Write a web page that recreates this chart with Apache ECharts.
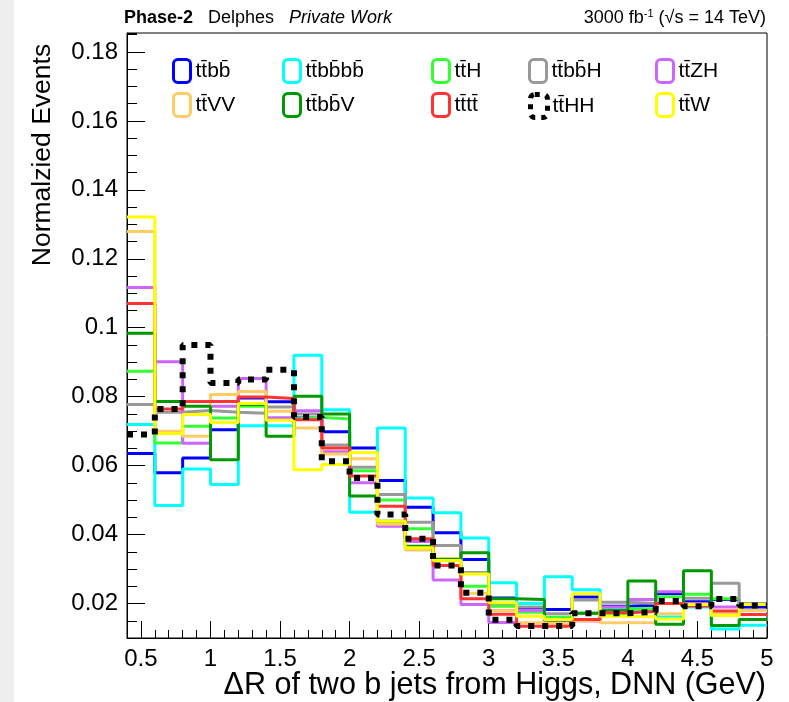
<!DOCTYPE html>
<html><head><meta charset="utf-8">
<script src="https://cdn.jsdelivr.net/npm/echarts@6/dist/echarts.min.js"></script>
<style>html,body{margin:0;padding:0;background:#fff}#c{width:789px;height:702px}</style>
</head><body><div id="c"></div>
<script>
const binEdges = [0.4,0.6,0.8,1.0,1.2,1.4,1.6,1.8,2.0,2.2,2.4,2.6,2.8,3.0,3.2,3.4,3.6,3.8,4.0,4.2,4.4,4.6,4.8,5.0];
const xTickLabels = [0.5,1,1.5,2,2.5,3,3.5,4,4.5,5];
const yTickLabels = [0.02,0.04,0.06,0.08,0.1,0.12,0.14,0.16,0.18];

const ttbb   = [.0635,.0579,.0622,.0704,.0796,.0785,.0738,.0698,.0651,.0557,.0479,.0405,.0328,.0216,.0183,.0183,.0219,.0192,.0195,.0229,.0205,.0212,.0190];
const ttbbbb = [.0719,.0484,.0590,.0545,.0716,.0716,.0920,.0762,.0465,.0709,.0506,.0463,.0390,.0260,.0200,.0278,.0240,.0185,.0178,.0161,.0190,.0126,.0137];
const ttH    = [.0874,.0666,.0714,.0738,.0772,.0735,.0740,.0735,.0585,.0500,.0417,.0330,.0250,.0192,.0175,.0160,.0172,.0170,.0185,.0220,.0227,.0214,.0180];
const ttbbH  = [.0777,.0755,.0760,.0755,.0752,.0770,.0750,.0660,.0595,.0516,.0436,.0368,.0290,.0200,.0190,.0170,.0210,.0204,.0200,.0200,.0215,.0259,.0200];
const ttZH   = [.1117,.0901,.0665,.0772,.0853,.0739,.0759,.0640,.0550,.0424,.0380,.0268,.0197,.0145,.0180,.0150,.0149,.0190,.0212,.0234,.0200,.0190,.0180];
const ttVV   = [.1279,.0700,.0685,.0806,.0815,.0758,.0709,.0634,.0620,.0430,.0355,.0330,.0230,.0180,.0144,.0140,.0150,.0144,.0145,.0170,.0195,.0170,.0180];
const ttbbV  = [.0984,.0786,.0772,.0617,.0777,.0685,.0801,.0750,.0512,.0439,.0366,.0328,.0347,.0214,.0212,.0152,.0172,.0180,.0265,.0140,.0295,.0136,.0154];
const tttt   = [.1070,.0764,.0786,.0786,.0799,.0795,.0733,.0651,.0570,.0482,.0388,.0310,.0214,.0169,.0134,.0134,.0154,.0173,.0177,.0200,.0193,.0178,.0168];
const ttHH   = [.0690,.0764,.0950,.0840,.0850,.0878,.0741,.0613,.0564,.0458,.0388,.0310,.0231,.0153,.0135,.0135,.0172,.0172,.0176,.0207,.0192,.0213,.0194];
const ttW    = [.1321,.0693,.0748,.0725,.0780,.0732,.0588,.0603,.0638,.0439,.0362,.0325,.0286,.0202,.0163,.0154,.0228,.0163,.0162,.0155,.0197,.0165,.0197];

const names = ['tt\u0304bb\u0304','tt\u0304bb\u0304bb\u0304','tt\u0304H','tt\u0304bb\u0304H','tt\u0304ZH',
               'tt\u0304VV','tt\u0304bb\u0304V','tt\u0304tt\u0304','tt\u0304HH','tt\u0304W'];
const values = [ttbb, ttbbbb, ttH, ttbbH, ttZH, ttVV, ttbbV, tttt, ttHH, ttW];
const colors = ['#0000ff','#00ffff','#33ff33','#999999','#cc66ff','#ffcc66','#009900','#ff3333','#000000','#ffff00'];
const drawOrder = [0,1,2,3,4,5,6,7,9,8];

const FONT = "'Liberation Sans', Arial, Helvetica, sans-serif";

function histData(vals){
  return binEdges.map((e,i)=>[e, vals[Math.min(i, vals.length-1)]]);
}

const series = drawOrder.map((k, j) => {
  const isDot = k === 8;
  return {
    name: names[k], type: 'line', step: 'end', symbol: 'none',
    xAxisIndex: 0, yAxisIndex: 0, z: 2 + j,
    data: histData(values[k]),
    lineStyle: isDot ? {color: '#000', width: 6, type: [6, 8]} : {color: colors[k], width: 3},
    itemStyle: {color: colors[k]},
    silent: true
  };
});

const colLeft = [172, 282, 431, 528, 655];
const rowTop = [58, 92];
const legends = names.map((n, k) => {
  const isDot = k === 8;
  return {
    left: colLeft[k % 5], top: rowTop[Math.floor(k / 5)],
    padding: 0, itemWidth: 17, itemHeight: 23, icon: 'roundRect', selectedMode: false,
    data: [{name: n, itemStyle: {color: 'transparent', borderColor: colors[k], borderWidth: isDot ? 5 : 3,
            borderType: isDot ? [5, 6] : 'solid'}}],
    textStyle: {fontFamily: FONT, fontSize: 21, color: '#000'}
  };
});

const chart = echarts.init(document.getElementById('c'), null, {renderer: 'canvas'});
chart.setOption({
  animation: false,
  backgroundColor: '#ffffff',
  grid: {left: 127, right: 22, top: 33, bottom: 64, show: true, borderColor: '#000', borderWidth: 1, backgroundColor: 'transparent'},
  legend: legends,
  xAxis: [
    {type: 'value', min: 0.4, max: 5, position: 'bottom',
     axisLine: {show: true, lineStyle: {color: '#000', width: 1}},
     axisTick: {show: true, inside: true, length: 17, lineStyle: {color: '#000'}, customValues: xTickLabels},
     axisLabel: {show: true, customValues: xTickLabels, margin: 9, fontSize: 24, fontFamily: FONT, color: '#000',
                 formatter: v => String(v)},
     splitLine: {show: false}},
    {type: 'value', min: 0.4, max: 5, interval: 0.1, position: 'bottom',
     axisLine: {show: false}, axisLabel: {show: false}, splitLine: {show: false},
     axisTick: {show: true, inside: true, length: 8, lineStyle: {color: '#000'}}}
  ],
  yAxis: [
    {type: 'value', min: 0.01, max: 0.1855, position: 'left',
     axisLine: {show: true, lineStyle: {color: '#000', width: 1}},
     axisTick: {show: true, inside: true, length: 18, lineStyle: {color: '#000'}, customValues: yTickLabels},
     axisLabel: {show: true, customValues: yTickLabels, margin: 9, fontSize: 24, fontFamily: FONT, color: '#000',
                 formatter: v => String(v)},
     splitLine: {show: false}},
    {type: 'value', min: 0.01, max: 0.1855, interval: 0.005, position: 'left', offset: 0,
     axisLine: {show: false}, axisLabel: {show: false}, splitLine: {show: false},
     axisTick: {show: true, inside: true, length: 10, lineStyle: {color: '#000'}}}
  ],
  graphic: [
    {type: 'rect', left: 0, top: 0, shape: {width: 14, height: 702}, style: {fill: '#eeeeee'}, z: -10},
    {type: 'text', x: 124, y: 18, style: {text: 'Phase-2', fontFamily: FONT, fontSize: 18, fontWeight: 'bold', fill: '#000', verticalAlign: 'middle'}},
    {type: 'text', x: 208, y: 18, style: {text: 'Delphes', fontFamily: FONT, fontSize: 18, fill: '#000', verticalAlign: 'middle'}},
    {type: 'text', x: 289, y: 18, style: {text: 'Private Work', fontFamily: FONT, fontSize: 18, fontStyle: 'italic', fill: '#000', verticalAlign: 'middle'}},
    {type: 'text', x: 766, y: 18, style: {
      text: '{a|3000 fb}{s|-1}{a| (\u221As = 14 TeV)}', align: 'right', verticalAlign: 'middle',
      rich: {a: {fontFamily: FONT, fontSize: 18, fill: '#000'}, s: {fontFamily: FONT, fontSize: 11, fill: '#000', verticalAlign: 'top', padding: [0,0,8,0]}}}},
    {type: 'text', x: 43, y: 155, rotation: Math.PI / 2, style: {text: 'Normalzied Events', fontFamily: FONT, fontSize: 26.5, fill: '#000', align: 'center', verticalAlign: 'middle'}},
    {type: 'text', x: 766, y: 686, style: {text: '\u0394R of two b jets from Higgs, DNN (GeV)', fontFamily: FONT, fontSize: 30.5, fill: '#000', align: 'right', verticalAlign: 'middle'}}
  ],
  series: series
});
</script></body></html>
